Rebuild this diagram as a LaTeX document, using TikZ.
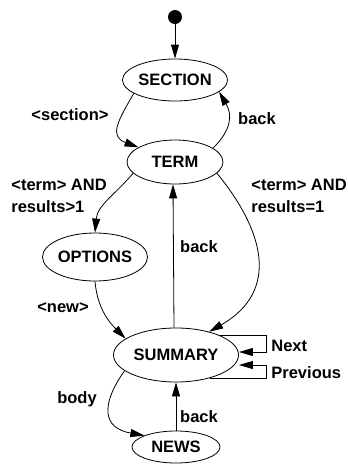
\documentclass[tikz,border=0pt]{standalone}
\usepackage{fontspec}
\setmainfont{Liberation Sans}
\usetikzlibrary{shapes.geometric, arrows.meta}

\begin{document}
\begin{tikzpicture}[x=1pt, y=1pt, line width=0.8pt,
    screen/.style={draw, ellipse, inner sep=0pt,
                   font=\bfseries\fontsize{16.5}{22}\selectfont},
    lbl/.style={inner sep=0pt, align=left,
                font=\bfseries\fontsize{16.5}{22}\selectfont},
    arr/.style={-{Triangle[length=14pt, width=8pt]}}]
    \useasboundingbox (0, 0) rectangle (348, -464);

    % Start state
    \path (175, -17) node [circle, fill, inner sep=0pt, minimum size=14pt] (start) {};

    % Screens
    \foreach \n/\x/\y/\w/\h/\t in {sec/175/-80/105/42/SECTION,
                                   term/175/-162/96/44/TERM,
                                   opt/95/-257/95/48/OPTIONS,
                                   sum/176/-355/125/54/SUMMARY,
                                   news/176/-447/88/32/NEWS} {
      \path (\x, \y) node [screen, minimum width=\w, minimum height=\h] (\n) {\t};
    }

    % Labels
    \path (70, -115) node [lbl] (lsec) {<section>};
    \path (257, -119) node [lbl] (lback1) {back};
    \path (11, -196) node [lbl, anchor=west] (lmany) {<term> AND\\results>1};
    \path (251, -196) node [lbl, anchor=west] (lone) {<term> AND\\results=1};
    \path (199, -247) node [lbl] (lback2) {back};
    \path (63, -308) node [lbl] (lnew) {<new>};
    \path (271, -346) node [lbl, anchor=west] (lnext) {Next};
    \path (271, -373) node [lbl, anchor=west] (lprev) {Previous};
    \path (77, -399) node [lbl] (lbody) {body};
    \path (199, -417) node [lbl] (lback3) {back};

    % Transitions
    \draw [arr] (start) -- (sec);
    \draw [arr] (sec.198) to [out=240, in=160, looseness=1.5] (term.158);
    \draw [arr] (term.20) to [out=45, in=-60, looseness=1.2] (sec.-15);
    \draw [arr] (term.195) to [out=230, in=85] (opt.north);
    \draw [arr] (term.-15) .. controls (262, -228) and (282, -290) .. (sum.35);
    \draw [arr] ([xshift=-2pt]sum.north) -- ([xshift=-2pt]term.south);
    \draw [arr] (opt.south) to [out=-85, in=135] (sum.162);
    \draw [arr] (sum.197) to [out=235, in=170, looseness=1.6] (news.160);
    \draw [arr] (news.north) -- (sum.south);

    % Self loops
    \draw [arr] (sum.north east) -| (266, -352) -- ([yshift=3pt]sum.east);
    \draw [arr] (sum.-34) -| (266, -365) -- ([yshift=-10pt]sum.east);
  \end{tikzpicture}
\end{document}
